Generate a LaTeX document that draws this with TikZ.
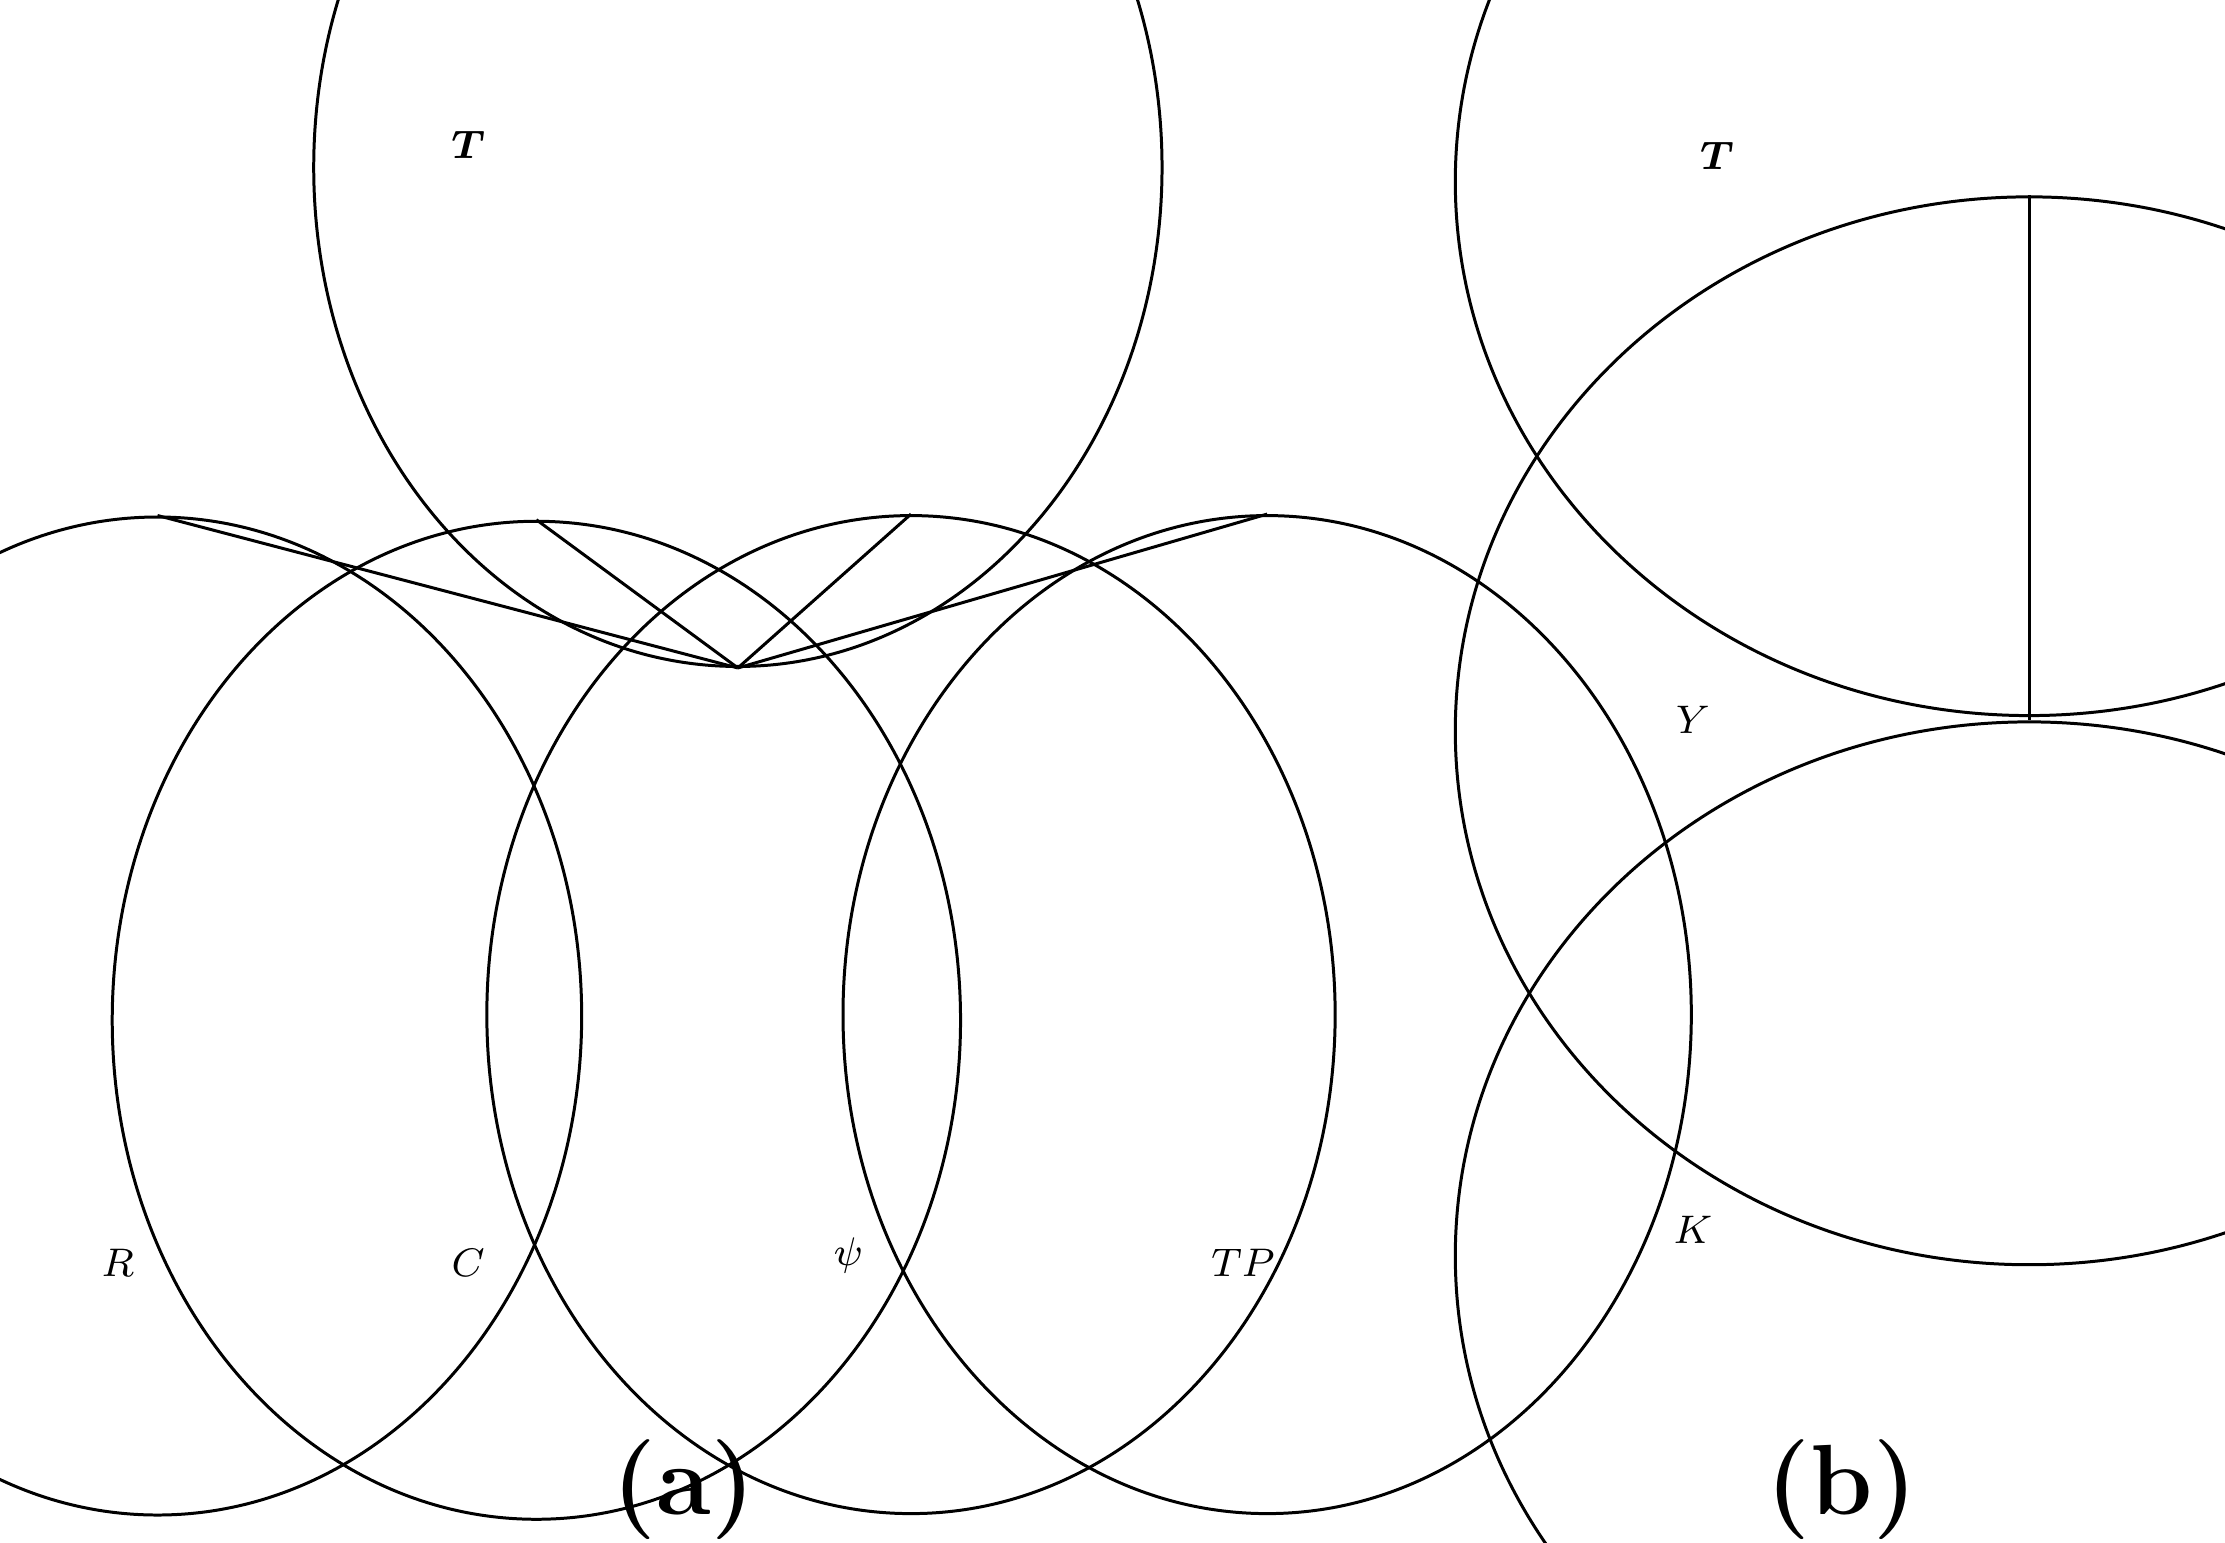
\documentclass[tikz,border=0pt]{standalone}
\usepackage{amsmath,bm}
\usetikzlibrary{shapes.geometric}
\begin{document}
\begin{tikzpicture}[x=0.01cm,y=-0.01cm,
  ell/.style={draw,ellipse,line width=0.6pt,inner sep=0pt},
  sm/.style={ell,minimum width=170,minimum height=200},
  big/.style={ell,minimum width=230,minimum height=214},
  lab/.style={font=\fontsize{8}{9}\selectfont},
  captxt/.style={font=\fontsize{20}{22}\selectfont\bfseries},
  con/.style={line width=0.6pt}]
\useasboundingbox (0,0) rectangle (1568,1087);
\node[sm] (t) at (520,118) {};
\node[sm] (r) at (111,716) {};
\node[sm] (c) at (378,719) {};
\node[sm] (p) at (642,715) {};
\node[sm] (tp) at (893,715) {};
\draw[con] (t.south) -- (r.north);
\draw[con] (t.south) -- (c.north);
\draw[con] (t.south) -- (p.north);
\draw[con] (t.south) -- (tp.north);
\node[lab] (lt) at (330,102) {$\bm{T}$};
\node[lab] (lr) at (83,890) {$R$};
\node[lab] (lc) at (330,890) {$C$};
\node[lab] (lp) at (598,885) {$\psi$};
\node[lab] (ltp) at (876,890) {$TP$};
\node[big] (b1) at (1430,128) {};
\node[big] (b2) at (1430,515) {};
\node[big] (b3) at (1430,885) {};
\draw[con] (b1) -- (b2);
\draw[con] (b2) -- (b3);
\node[lab] (lt2) at (1210,110) {$\bm{T}$};
\node[lab] (ly) at (1193,507) {$Y$};
\node[lab] (lk) at (1193,867) {$K$};
\node[captxt] (ca) at (482,1050) {(a)};
\node[captxt] (cb) at (1298,1050) {(b)};
\end{tikzpicture}
\end{document}
